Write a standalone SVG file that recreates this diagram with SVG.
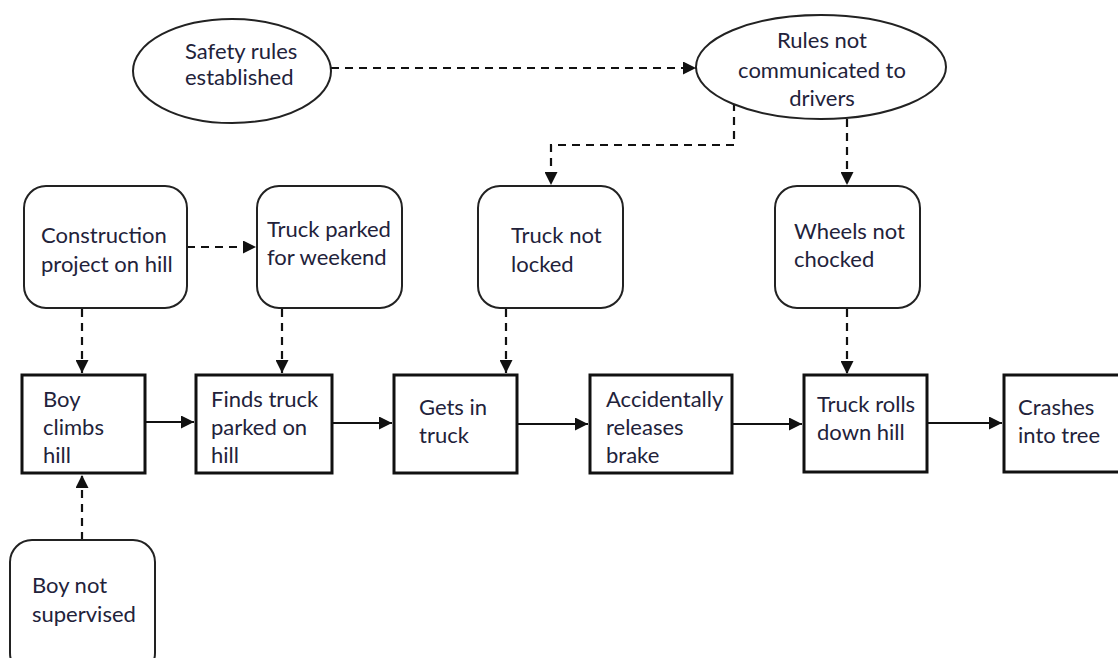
<svg xmlns="http://www.w3.org/2000/svg" width="1118" height="658" viewBox="0 0 1118 658">
  <style>
    .cause { fill: #fff; stroke: #222; stroke-width: 2; }
    .event { fill: #fff; stroke: #111; stroke-width: 3; }
    .lbl { font-family: Lato, "Open Sans", sans-serif; font-size: 22px; fill: #22223a; }
    .dash { fill: none; stroke: #111; stroke-width: 2.2; stroke-dasharray: 8 6; }
    .solid { fill: none; stroke: #111; stroke-width: 2.2; }
  </style>
  <defs>
    <marker id="arrow" viewBox="0 0 10 10" refX="10" refY="5" markerWidth="13" markerHeight="13" markerUnits="userSpaceOnUse" orient="auto">
      <path d="M0,0 L10,5 L0,10 z" fill="#111"/>
    </marker>
  </defs>

  <!-- connectors -->
  <g id="connectors">
    <path class="dash" d="M331,68 H696" marker-end="url(#arrow)"/>
    <path class="dash" d="M734,103 V145 H551 V185" marker-end="url(#arrow)"/>
    <path class="dash" d="M847,119 V185" marker-end="url(#arrow)"/>
    <path class="dash" d="M187,247 H256" marker-end="url(#arrow)"/>
    <path class="dash" d="M82,309 V373" marker-end="url(#arrow)"/>
    <path class="dash" d="M282,309 V373" marker-end="url(#arrow)"/>
    <path class="dash" d="M506,309 V373" marker-end="url(#arrow)"/>
    <path class="dash" d="M847,309 V374" marker-end="url(#arrow)"/>
    <path class="dash" d="M82,540 V475" marker-end="url(#arrow)"/>
    <path class="solid" d="M146,422 H194" marker-end="url(#arrow)"/>
    <path class="solid" d="M333,423 H392" marker-end="url(#arrow)"/>
    <path class="solid" d="M518,424 H588" marker-end="url(#arrow)"/>
    <path class="solid" d="M733,424 H802" marker-end="url(#arrow)"/>
    <path class="solid" d="M928,423 H1002" marker-end="url(#arrow)"/>
  </g>

  <g id="safety-rules">
    <ellipse class="cause" cx="232" cy="71" rx="99" ry="52"/>
    <text class="lbl" x="185" y="59">Safety rules</text>
    <text class="lbl" x="185" y="85">established</text>
  </g>

  <g id="rules-not-communicated">
    <ellipse class="cause" cx="821" cy="67" rx="125" ry="52"/>
    <text class="lbl" x="822" y="48" text-anchor="middle">Rules not</text>
    <text class="lbl" x="822" y="78" text-anchor="middle">communicated to</text>
    <text class="lbl" x="822" y="106" text-anchor="middle">drivers</text>
  </g>

  <g id="construction-project">
    <rect class="cause" x="24" y="186" width="163" height="122" rx="22"/>
    <text class="lbl" x="41" y="243">Construction</text>
    <text class="lbl" x="41" y="272">project on hill</text>
  </g>

  <g id="truck-parked">
    <rect class="cause" x="257" y="186" width="145" height="122" rx="22"/>
    <text class="lbl" x="267" y="237">Truck parked</text>
    <text class="lbl" x="267" y="265">for weekend</text>
  </g>

  <g id="truck-not-locked">
    <rect class="cause" x="478" y="186" width="145" height="122" rx="22"/>
    <text class="lbl" x="511" y="243">Truck not</text>
    <text class="lbl" x="511" y="272">locked</text>
  </g>

  <g id="wheels-not-chocked">
    <rect class="cause" x="775" y="186" width="145" height="122" rx="22"/>
    <text class="lbl" x="794" y="239">Wheels not</text>
    <text class="lbl" x="794" y="267">chocked</text>
  </g>

  <g id="boy-climbs-hill">
    <rect class="event" x="22" y="375" width="123" height="98"/>
    <text class="lbl" x="43" y="407">Boy</text>
    <text class="lbl" x="43" y="435">climbs</text>
    <text class="lbl" x="43" y="463">hill</text>
  </g>

  <g id="finds-truck">
    <rect class="event" x="196" y="375" width="136" height="98"/>
    <text class="lbl" x="211" y="407">Finds truck</text>
    <text class="lbl" x="211" y="435">parked on</text>
    <text class="lbl" x="211" y="463">hill</text>
  </g>

  <g id="gets-in-truck">
    <rect class="event" x="394" y="375" width="123" height="98"/>
    <text class="lbl" x="419" y="415">Gets in</text>
    <text class="lbl" x="419" y="443">truck</text>
  </g>

  <g id="releases-brake">
    <rect class="event" x="590" y="375" width="142" height="98"/>
    <text class="lbl" x="606" y="407">Accidentally</text>
    <text class="lbl" x="606" y="435">releases</text>
    <text class="lbl" x="606" y="463">brake</text>
  </g>

  <g id="truck-rolls">
    <rect class="event" x="804" y="375" width="123" height="97"/>
    <text class="lbl" x="817" y="412">Truck rolls</text>
    <text class="lbl" x="817" y="440">down hill</text>
  </g>

  <g id="crashes">
    <rect class="event" x="1004" y="375" width="130" height="97"/>
    <text class="lbl" x="1018" y="415">Crashes</text>
    <text class="lbl" x="1018" y="443">into tree</text>
  </g>

  <g id="boy-not-supervised">
    <rect class="cause" x="10" y="540" width="145" height="135" rx="22"/>
    <text class="lbl" x="32" y="593">Boy not</text>
    <text class="lbl" x="32" y="622">supervised</text>
  </g>
</svg>
